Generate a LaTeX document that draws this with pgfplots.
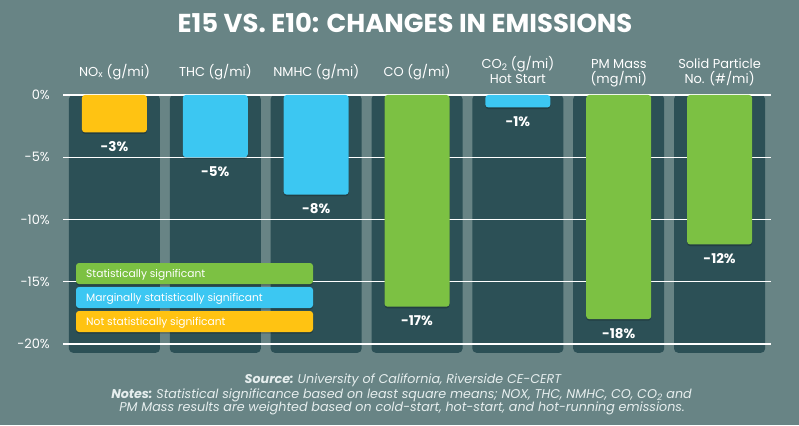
\documentclass[border=0pt]{standalone}
\usepackage{pgfplots}
\pgfplotsset{compat=1.18}
\usepackage{fontspec}
\setmainfont{Poppins}

\definecolor{bgc}{HTML}{688485}
\definecolor{panel}{HTML}{2C5056}
\definecolor{sig}{HTML}{7CC143}
\definecolor{marg}{HTML}{3CC7F2}
\definecolor{nsig}{HTML}{FFC312}
\definecolor{foot}{HTML}{E6EEEE}

% soft shadow under bars and legend boxes
\tikzset{softshadow/.style={preaction={fill=black, fill opacity=0.22,
  transform canvas={yshift=-1.6bp}}}}

% one column header, one or two lines, centred on the column
\newcommand\hdr[3]{%
  \node[anchor=base, text=white, font=\fontsize{13}{15}\selectfont] at (#1,357) {#2};
  \node[anchor=base, text=white, font=\fontsize{13}{15}\selectfont] at (#1,342) {#3};}
\newcommand\hdrone[2]{%
  \node[anchor=base, text=white, font=\fontsize{13}{15}\selectfont] at (#1,349) {#2};}

\begin{document}
\begin{tikzpicture}[x=1bp,y=1bp]
\fill[bgc] (0,0) rectangle (799,425);
\useasboundingbox (0,0) rectangle (799,425);

\begin{axis}[
  at={(63bp,330bp)}, anchor=north west,
  scale only axis, width=708bp, height=258bp,
  xmin=-0.51, xmax=6.51, ymin=-20.72, ymax=0,
  axis line style={draw=none},
  xtick=\empty,
  ytick={0,-5,-10,-15,-20},
  yticklabels={0\%,-5\%,-10\%,-15\%,-20\%},
  major tick length=0pt,
  yticklabel style={font=\fontsize{13}{15}\selectfont, text=white, inner sep=0pt, xshift=-13bp},
  clip=false,
  ybar,
  every node near coord/.append style={anchor=north, inner sep=0pt, yshift=-9bp,
    text=white, font=\fontsize{13.5}{15}\selectfont\bfseries},
]
% dark column panels
\addplot[fill=panel, draw=none, bar width=91bp, bar shift=0pt, rounded corners=4bp]
  coordinates {(0,-20.7) (1,-20.7) (2,-20.7) (3,-20.7) (4,-20.7) (5,-20.7) (6,-20.7)};

% gridlines over the panels, under the bars
\pgfplotsinvokeforeach{0,-5,-10,-15,-20}{
  \draw[white, line width=1.3bp] (axis cs:-0.51,#1) -- (axis cs:6.51,#1);
}

% not statistically significant
\addplot[fill=nsig, draw=none, softshadow, bar width=65bp, bar shift=0pt, rounded corners=3bp,
  point meta=explicit symbolic, nodes near coords={\pgfplotspointmeta}]
  coordinates {(0,-3) [-3\%]};
% marginally statistically significant
\addplot[fill=marg, draw=none, softshadow, bar width=65bp, bar shift=0pt, rounded corners=3bp,
  point meta=explicit symbolic, nodes near coords={\pgfplotspointmeta}]
  coordinates {(1,-5) [-5\%] (2,-8) [-8\%] (4,-1) [-1\%]};
% statistically significant
\addplot[fill=sig, draw=none, softshadow, bar width=65bp, bar shift=0pt, rounded corners=3bp,
  point meta=explicit symbolic, nodes near coords={\pgfplotspointmeta}]
  coordinates {(3,-17) [-17\%] (5,-18) [-18\%] (6,-12) [-12\%]};
\end{axis}

% title
\node[anchor=base, text=white, font=\fontsize{26}{30}\selectfont\bfseries] at (405,392)
  {E15 VS. E10: CHANGES IN EMISSIONS};

% column headers
\hdrone{114.5}{NO\textsubscript{x} (g/mi)}
\hdrone{215.4}{THC (g/mi)}
\hdrone{316.2}{NMHC (g/mi)}
\hdrone{417.1}{CO (g/mi)}
\hdr{517.9}{CO\textsubscript{2} (g/mi)}{Hot Start}
\hdr{618.8}{PM Mass}{(mg/mi)}
\hdr{719.6}{Solid Particle}{No. (\#/mi)}

% legend
\fill[sig,  softshadow, rounded corners=3bp] (76,141) rectangle (313,162);
\fill[marg, softshadow, rounded corners=3bp] (76,117) rectangle (313,138);
\fill[nsig, softshadow, rounded corners=3bp] (76,93)  rectangle (313,114);
\begin{scope}[every node/.style={anchor=base west, text=white, inner sep=0pt,
    font=\fontsize{10.7}{12}\selectfont}]
  \node at (86,147.7) {Statistically significant};
  \node at (86,123.5) {Marginally statistically significant};
  \node at (86,99.5)  {Not statistically significant};
\end{scope}

% source and notes
\begin{scope}[every node/.style={anchor=base, text=foot, inner sep=0pt,
    font=\fontsize{12.75}{14}\selectfont\itshape}]
  \node at (403,42) {\bfseries Source:\mdseries\ University of California, Riverside CE-CERT};
  \node at (401.5,27) {\bfseries Notes:\mdseries\ Statistical significance based on least square means; NOX, THC, NMHC, CO, CO\textsubscript{2} and};
  \node at (402,13.5) {PM Mass results are weighted based on cold-start, hot-start, and hot-running emissions.};
\end{scope}
\end{tikzpicture}
\end{document}
